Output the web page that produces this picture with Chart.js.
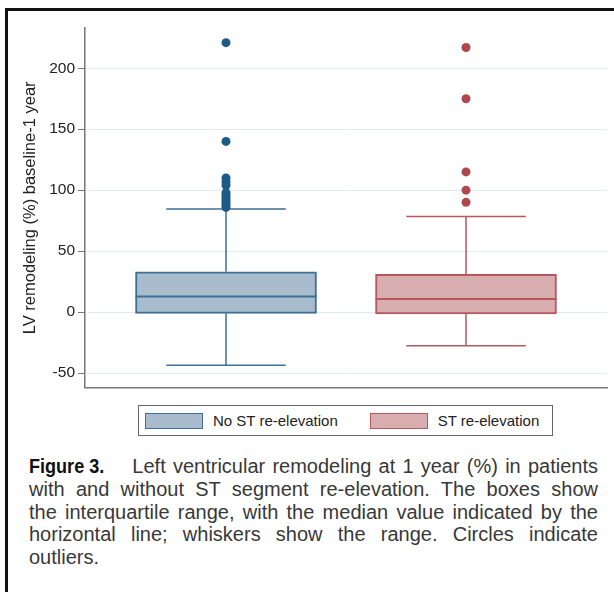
<!DOCTYPE html>
<html>
<head>
<meta charset="utf-8">
<script src="https://cdn.jsdelivr.net/npm/chart.js@4.4.1/dist/chart.umd.min.js"></script>
<style>
  html, body { margin: 0; padding: 0; background: #fff; }
  body { width: 614px; height: 592px; position: relative; overflow: hidden; font-family: "Liberation Sans", Arial, sans-serif; }
  #frame { position: absolute; left: 5px; top: 8px; right: -3px; bottom: -3px; border-top: 3px solid #111; border-left: 3px solid #111; }
  #chart { position: absolute; left: 0; top: 0; }
  #legend { position: absolute; left: 138px; top: 405px; width: 415px; height: 31px; box-sizing: border-box;
            border: 1.5px solid #666; display: flex; align-items: center; padding-left: 6px; }
  .item { display: flex; align-items: center; margin-right: 32px; flex-shrink: 0; }
  .swatch { width: 58px; height: 16px; box-sizing: border-box; border: 1.5px solid; flex-shrink: 0; }
  .label { margin-left: 10px; font-size: 15px; color: #222; white-space: nowrap; }
  #caption { position: absolute; left: 29px; top: 455px; width: 569px; font-size: 20px; line-height: 22.75px; color: #383838; }
  #caption .line { text-align: justify; text-align-last: justify; white-space: nowrap; }
  #caption .line.last { text-align-last: left; }
  #caption b { display: inline-block; transform: scaleX(0.86); transform-origin: left center; margin-right: -13px;
               font-weight: bold; font-size: 21px; color: #111; }
</style>
</head>
<body>
<div id="frame"></div>
<canvas id="chart" width="614" height="400"></canvas>
<div id="legend"></div>
<div id="caption">
  <div class="line"><b>Figure 3.</b>&nbsp;&nbsp;&nbsp; Left ventricular remodeling at 1 year (%) in patients</div>
  <div class="line">with and without ST segment re-elevation. The boxes show</div>
  <div class="line">the interquartile range, with the median value indicated by the</div>
  <div class="line">horizontal line; whiskers show the range. Circles indicate</div>
  <div class="line last">outliers.</div>
</div>
<script>
const groups = ['No ST re-elevation', 'ST re-elevation'];
const groupX = [1, 2];
const q1 = [-1, -1.5];
const median = [12.8, 10.8];
const q3 = [33, 31];
const whiskerLow = [-43.5, -27.5];
const whiskerHigh = [84.5, 78.5];
const outliersNoST = [221, 140, 110, 107, 104, 98, 96, 94, 92, 90, 88, 86];
const outliersST = [217, 175, 115, 100, 90];
const yTicks = [-50, 0, 50, 100, 150, 200];

const fills = ['#a8bccd', '#d8aeb1'];
const strokes = ['#3e6f97', '#b6585d'];
const dots = ['#1d5a86', '#b0474c'];

// whiskers and median lines, drawn right after the boxes
const boxWhiskers = {
  id: 'boxWhiskers',
  afterDatasetDraw(chart, args) {
    if (args.meta.type !== 'bar') return;
    const { ctx, scales: { x, y } } = chart;
    ctx.save();
    args.meta.data.forEach((bar, i) => {
      const cx = x.getPixelForValue(groupX[i]);
      const half = bar.width / 2;
      const cap = bar.width * 0.33;
      ctx.strokeStyle = strokes[i];
      ctx.lineWidth = 1.5;
      ctx.beginPath();
      ctx.moveTo(cx, y.getPixelForValue(q3[i]));
      ctx.lineTo(cx, y.getPixelForValue(whiskerHigh[i]));
      ctx.moveTo(cx, y.getPixelForValue(q1[i]));
      ctx.lineTo(cx, y.getPixelForValue(whiskerLow[i]));
      ctx.moveTo(cx - cap, y.getPixelForValue(whiskerHigh[i]));
      ctx.lineTo(cx + cap, y.getPixelForValue(whiskerHigh[i]));
      ctx.moveTo(cx - cap, y.getPixelForValue(whiskerLow[i]));
      ctx.lineTo(cx + cap, y.getPixelForValue(whiskerLow[i]));
      ctx.stroke();
      ctx.lineWidth = 2;
      ctx.beginPath();
      ctx.moveTo(cx - half, y.getPixelForValue(median[i]));
      ctx.lineTo(cx + half, y.getPixelForValue(median[i]));
      ctx.stroke();
    });
    ctx.restore();
  }
};

const family = '"Liberation Sans", Arial, sans-serif';

new Chart(document.getElementById('chart'), {
  type: 'bar',
  data: {
    datasets: [
      {
        type: 'bar',
        order: 2,
        data: groupX.map((gx, i) => ({ x: gx, y: [q1[i], q3[i]] })),
        backgroundColor: fills,
        borderColor: strokes,
        borderWidth: 2,
        borderSkipped: false,
        barThickness: 181
      },
      {
        type: 'scatter',
        order: 1,
        data: outliersNoST.map(v => ({ x: groupX[0], y: v })),
        pointRadius: 4.5,
        pointBackgroundColor: dots[0],
        pointBorderWidth: 0
      },
      {
        type: 'scatter',
        order: 1,
        data: outliersST.map(v => ({ x: groupX[1], y: v })),
        pointRadius: 4.5,
        pointBackgroundColor: dots[1],
        pointBorderWidth: 0
      }
    ]
  },
  options: {
    responsive: false,
    animation: false,
    layout: { padding: { top: 28, right: 7, bottom: 3, left: 0 } },
    plugins: {
      legend: { display: false },
      tooltip: { enabled: false }
    },
    scales: {
      x: {
        type: 'linear',
        offset: false,
        min: 0.4125,
        max: 2.5875,
        ticks: { display: false },
        grid: { display: false },
        border: { color: '#777', width: 1.5 },
        afterFit: axis => { axis.height = 0; }
      },
      y: {
        type: 'linear',
        min: -62,
        max: 233,
        afterBuildTicks: axis => { axis.ticks = yTicks.map(v => ({ value: v })); },
        afterFit: axis => { axis.width = 85; },
        grid: { color: '#e3ebf1', lineWidth: 1, tickColor: '#777', tickLength: 7 },
        border: { color: '#777', width: 1.5 },
        ticks: { color: '#222', font: { size: 15.5, family }, padding: 3 },
        title: {
          display: true,
          text: 'LV remodeling (%) baseline-1 year',
          color: '#222',
          font: { size: 16.5, family },
          padding: { top: 21, bottom: 0 }
        }
      }
    }
  },
  plugins: [boxWhiskers]
});

// legend from the group names
const legend = document.getElementById('legend');
groups.forEach((g, i) => {
  const item = document.createElement('div');
  item.className = 'item';
  const sw = document.createElement('div');
  sw.className = 'swatch';
  sw.style.background = fills[i];
  sw.style.borderColor = strokes[i];
  const lab = document.createElement('span');
  lab.className = 'label';
  lab.textContent = g;
  item.appendChild(sw);
  item.appendChild(lab);
  legend.appendChild(item);
});
</script>
</body>
</html>
